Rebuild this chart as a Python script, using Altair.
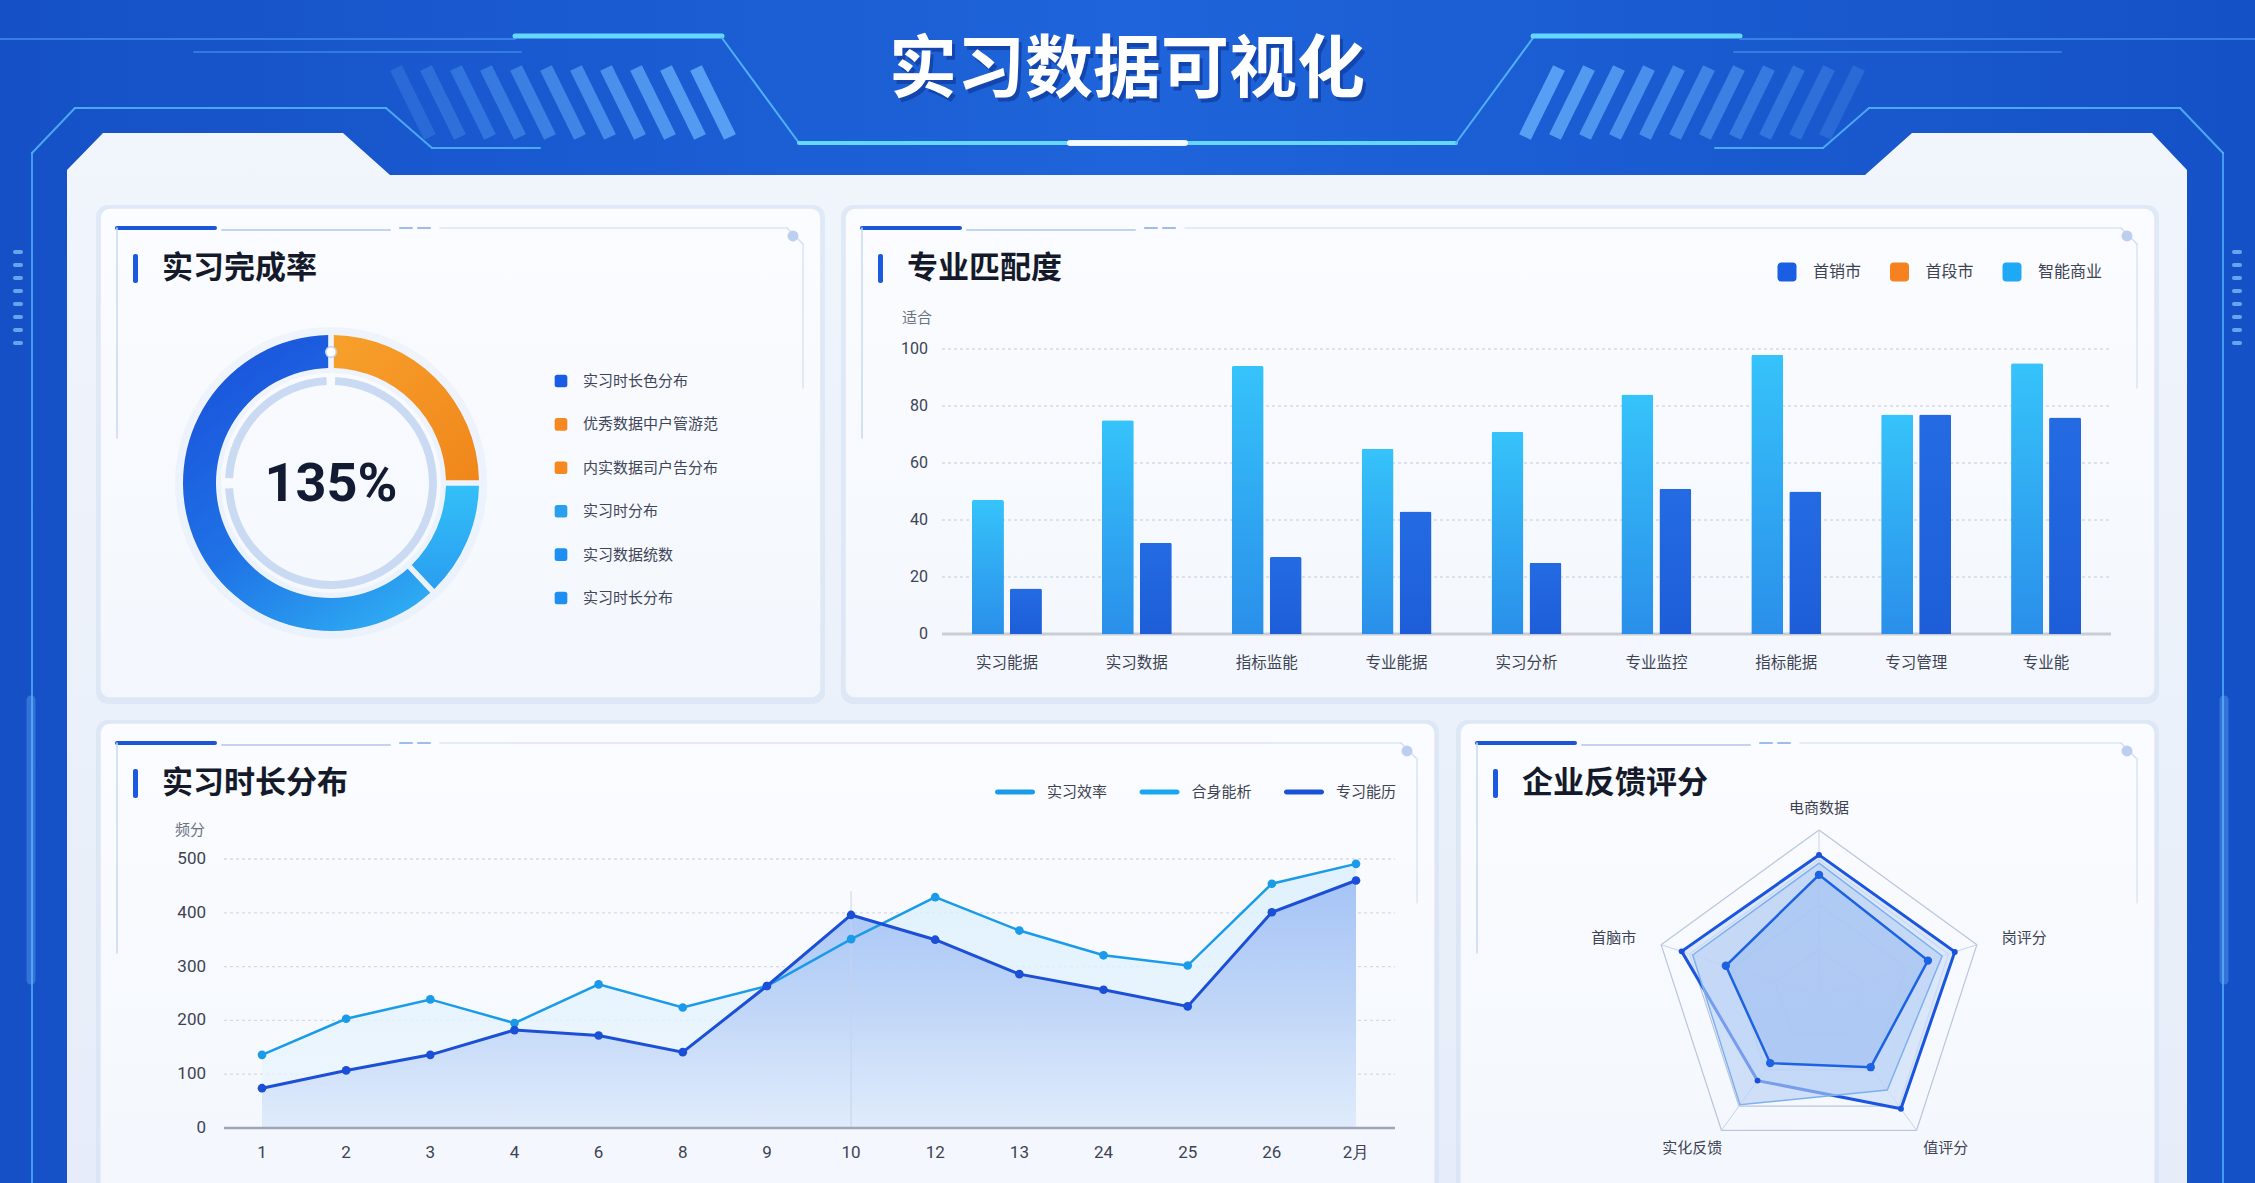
import math
import altair as alt
import pandas as pd

W, H = 2255, 1183
CJK = "Noto Sans CJK SC"
NUM = "Roboto"

# ---------------- data ----------------
page_title = "实习数据可视化"
panel_titles = ["实习完成率", "专业匹配度", "实习时长分布", "企业反馈评分"]

donut_names = ["实习时分布", "实习数据统数", "实习时长分布"]
donut_values = [25, 13, 62]
donut_center_text = "135%"
donut_legend = ["实习时长色分布", "优秀数据中户管游范", "内实数据司户告分布",
                "实习时分布", "实习数据统数", "实习时长分布"]

bar_categories = ["实习能据", "实习数据", "指标监能", "专业能据", "实习分析",
                  "专业监控", "指标能据", "专习管理", "专业能"]
bar_light = [47, 75, 94, 65, 71, 84, 98, 77, 95]
bar_dark = [16, 32, 27, 43, 25, 51, 50, 77, 76]
bar_ticks = [0, 20, 40, 60, 80, 100]
bar_legend = ["首销市", "首段市", "智能商业"]
bar_y_title = "适合"

line_x = ["1", "2", "3", "4", "6", "8", "9", "10", "12", "13", "24", "25", "26", "2月"]
line_light = [136, 203, 239, 195, 267, 224, 264, 351, 429, 367, 321, 302, 454, 491]
line_dark = [74, 107, 136, 182, 172, 141, 264, 396, 350, 286, 257, 226, 401, 460]
line_ticks = [0, 100, 200, 300, 400, 500]
line_legend = ["实习效率", "合身能析", "专习能历"]
line_y_title = "频分"
line_marker_x = "10"

radar_axes = ["电商数据", "岗评分", "值评分", "实化反馈", "首脑市"]
radar_s1 = [0.85, 0.86, 0.84, 0.63, 0.87]
radar_s2 = [0.80, 0.78, 0.70, 0.81, 0.80]
radar_s3 = [0.73, 0.69, 0.53, 0.50, 0.59]
radar_levels = [0.28, 0.55, 0.82, 1.0]

# ---------------- layout / style ----------------
panels = [(100, 208, 821, 698), (845, 208, 2155, 698),
          (100, 723, 1435, 1205), (1460, 723, 2155, 1205)]
ROUNDSQ = ("M -0.6 -1 L 0.6 -1 Q 1 -1 1 -0.6 L 1 0.6 Q 1 1 0.6 1 L -0.6 1 "
           "Q -1 1 -1 0.6 L -1 -0.6 Q -1 -1 -0.6 -1 Z")


def PX(f):
    return alt.X(f, type="quantitative", scale=None, axis=None)


def PY(f):
    return alt.Y(f, type="quantitative", scale=None, axis=None)


def grad(stops, x1=0, y1=0, x2=0, y2=1):
    return alt.Gradient(gradient="linear", x1=x1, y1=y1, x2=x2, y2=y2,
                        stops=[alt.GradientStop(offset=o, color=c) for o, c in stops])


def seg_layer(rows, cap="round"):
    df = pd.DataFrame(rows, columns=["x", "y", "x2", "y2", "c", "w", "o"])
    return alt.Chart(df).mark_rule(strokeCap=cap).encode(
        x=PX("x"), y=PY("y"), x2="x2:Q", y2="y2:Q",
        color=alt.Color("c:N", scale=None, legend=None),
        strokeWidth=alt.StrokeWidth("w:Q", scale=None, legend=None),
        opacity=alt.Opacity("o:Q", scale=None, legend=None))


def rect_layer(rows, **mark):
    df = pd.DataFrame(rows, columns=["x", "y", "x2", "y2"])
    return alt.Chart(df).mark_rect(**mark).encode(
        x=PX("x"), x2="x2:Q", y=PY("y"), y2="y2:Q")


layers = []

# background
layers.append(rect_layer([(0, 0, W, H)], fill=grad(
    [(0, "#1550c6"), (0.5, "#1f64da"), (1, "#1551c6")], x1=0, y1=0, x2=1, y2=0)))

# banner stripes
stripes = []
for k in range(11):
    xb = 430 + k * 30
    stripes.append((xb - 34, 68, xb, 137, "#6cb6ff", 13, 0.2 + k * 0.055))
for k in range(11):
    xb = 1825 - k * 30
    stripes.append((xb + 34, 68, xb, 137, "#6cb6ff", 13, 0.2 + k * 0.055))
layers.append(seg_layer(stripes, cap="butt"))

# banner frame lines
bright, mid, faint = "#66d8ff", "#4fb0f7", "#3f8ae8"
frame = [
    (0, 39, 515, 39, faint, 2, 0.8), (515, 36, 722, 36, bright, 5, 1),
    (194, 52, 521, 52, faint, 2, 0.7), (722, 38, 799, 143, mid, 2, 1),
    (799, 143, 1456, 143, bright, 4, 1), (1456, 143, 1533, 38, mid, 2, 1),
    (1533, 36, 1740, 36, bright, 5, 1), (1740, 39, 2255, 39, faint, 2, 0.8),
    (1734, 52, 2061, 52, faint, 2, 0.7), (1070, 143, 1185, 143, "#ffffff", 6, 0.9),
    (32, 153, 75, 108, mid, 2, 0.9), (75, 108, 386, 108, mid, 2, 0.9),
    (386, 108, 432, 148, mid, 2, 0.9), (432, 148, 540, 148, mid, 2, 0.9),
    (2223, 153, 2180, 108, mid, 2, 0.9), (2180, 108, 1869, 108, mid, 2, 0.9),
    (1869, 108, 1823, 148, mid, 2, 0.9), (1823, 148, 1715, 148, mid, 2, 0.9),
    (32, 153, 32, 1183, mid, 2, 0.8), (2223, 153, 2223, 1183, mid, 2, 0.8),
    (31, 700, 31, 980, "#6fb3f6", 9, 0.35), (2224, 700, 2224, 980, "#6fb3f6", 9, 0.35),
]
for j in range(8):
    frame.append((15, 252 + j * 13, 21, 252 + j * 13, "#7db9f6", 4, 0.8))
    frame.append((2234, 252 + j * 13, 2240, 252 + j * 13, "#7db9f6", 4, 0.8))
layers.append(seg_layer(frame))

# title
tdf = pd.DataFrame({"t": [page_title]})
layers.append(alt.Chart(tdf).mark_text(font=CJK, fontSize=68, fontWeight="bold", color="#0b2f8a",
                                       opacity=0.55, align="center", baseline="middle").encode(
    x=alt.value(1130), y=alt.value(76), text="t:N"))
layers.append(alt.Chart(tdf).mark_text(font=CJK, fontSize=68, fontWeight="bold", color="#ffffff",
                                       align="center", baseline="middle").encode(
    x=alt.value(1127), y=alt.value(72), text="t:N"))

# main white area (notched top)
main_pts = pd.DataFrame({
    "x": [67, 103, 343, 390, 1865, 1912, 2152, 2187],
    "y": [170, 133, 133, 175, 175, 133, 133, 170]})
main_pts["b"] = H
layers.append(alt.Chart(main_pts).mark_area(orient="vertical", fill=grad(
    [(0, "#f1f5fc"), (1, "#e6edf8")])).encode(x=PX("x"), y=PY("y"), y2="b:Q"))

# panels
shadow_rows, card_rows, deco, dots, bars_acc = [], [], [], [], []
for (x0, y0, x1, y1) in panels:
    shadow_rows.append((x0 - 4, y0 - 3, x1 + 4, y1 + 6))
    card_rows.append((x0, y0, x1, y1))
    deco += [
        (x0 + 17, y0 + 20, x0 + 115, y0 + 20, "#1a56d6", 4, 1),
        (x0 + 122, y0 + 22, x0 + 290, y0 + 22, "#c2d4f1", 2, 1),
        (x0 + 300, y0 + 20, x0 + 312, y0 + 20, "#9fbcea", 2, 1),
        (x0 + 318, y0 + 20, x0 + 330, y0 + 20, "#9fbcea", 2, 1),
        (x0 + 340, y0 + 20, x1 - 34, y0 + 20, "#dde6f5", 1.5, 1),
        (x1 - 34, y0 + 20, x1 - 18, y0 + 36, "#d2def2", 1.5, 1),
        (x1 - 18, y0 + 36, x1 - 18, y0 + 180, "#dbe4f4", 1.5, 1),
        (x0 + 17, y0 + 20, x0 + 17, y0 + 230, "#c9d8f2", 1.5, 1),
    ]
    dots.append((x1 - 28, y0 + 28))
    bars_acc.append((x0 + 33, y0 + 46, x0 + 38, y0 + 75))
layers.append(rect_layer(shadow_rows, fill="#cddbf2", opacity=0.45, cornerRadius=12))
layers.append(rect_layer(card_rows, fill=grad([(0, "#fbfcff"), (1, "#f3f7fd")]),
                         stroke="#e0e8f5", strokeWidth=1.5, cornerRadius=10))
layers.append(seg_layer(deco))
ddf = pd.DataFrame(dots, columns=["x", "y"])
layers.append(alt.Chart(ddf).mark_circle(size=120, color="#bccff0", opacity=1).encode(
    x=PX("x"), y=PY("y")))
layers.append(rect_layer(bars_acc, fill="#1a5ae0", cornerRadius=2))
ptdf = pd.DataFrame({"t": panel_titles, "x": [p[0] + 62 for p in panels],
                     "y": [p[1] + 61 for p in panels]})
layers.append(alt.Chart(ptdf).mark_text(font=CJK, fontSize=31, fontWeight="bold", color="#151a2a",
                                        align="left", baseline="middle").encode(
    x=PX("x"), y=PY("y"), text="t:N"))

# ---------------- donut ----------------
CX, CY = 331, 483
ring = pd.DataFrame({"a": [0.0], "b": [2 * math.pi]})
layers.append(alt.Chart(ring).mark_arc(innerRadius=110, outerRadius=156, fill="#d6e4f8",
                                       opacity=0.3).encode(
    theta=alt.value(0), theta2=alt.value(6.2832), x=alt.value(CX), y=alt.value(CY)))
for a0, a1 in [(0.04, 4.66), (4.76, 6.24)]:
    layers.append(alt.Chart(ring).mark_arc(innerRadius=98, outerRadius=106, fill="#cbdaf3").encode(
        theta=alt.value(a0), theta2=alt.value(a1), x=alt.value(CX), y=alt.value(CY)))

ddf2 = pd.DataFrame({"name": donut_names, "v": donut_values, "k": list(range(len(donut_values)))})
total = float(sum(donut_values))
theta_sc = alt.Scale(domain=[0, total], range=[0, 2 * math.pi])
dbase = alt.Chart(ddf2).transform_window(
    cum="sum(v)", sort=[alt.SortField("k")], frame=[None, 0]
).transform_calculate(start="datum.cum - datum.v")
donut_fills = [
    grad([(0, "#f7a02c"), (1, "#f0861a")], x1=0, y1=0, x2=1, y2=1),
    grad([(0, "#33bff8"), (1, "#2a9ef0")], x1=0, y1=0, x2=0, y2=1),
    grad([(0, "#1a52db"), (0.55, "#1f73e6"), (1, "#2eaaf2")], x1=0.2, y1=0, x2=0.8, y2=1),
]
for k, f in enumerate(donut_fills):
    layers.append(dbase.transform_filter(f"datum.k == {k}").mark_arc(
        innerRadius=115, outerRadius=148, padAngle=0.03, fill=f).encode(
        theta=alt.Theta("start:Q", scale=theta_sc),
        theta2=alt.Theta2("cum:Q"),
        x=alt.value(CX), y=alt.value(CY)))
layers.append(alt.Chart(ring).mark_point(shape="circle", filled=True, size=110, color="#ffffff",
                                         stroke="#bfd2f0", strokeWidth=1.5, opacity=1).encode(
    x=alt.value(CX), y=alt.value(CY - 131)))
cdf = pd.DataFrame({"t": [donut_center_text]})
layers.append(alt.Chart(cdf).mark_text(font=NUM, fontSize=54, fontWeight="bold", color="#131b33",
                                       align="center", baseline="middle").encode(
    x=alt.value(CX), y=alt.value(CY + 2), text="t:N"))

leg_colors = ["#1a5ce6", "#f5891f", "#f5891f", "#2a9fee", "#1c8ff0", "#1c8ff0"]
ldf = pd.DataFrame({"t": donut_legend, "c": leg_colors})
lsc = alt.Scale(type="point", domain=donut_legend, range=[381, 598], padding=0)
layers.append(alt.Chart(ldf).mark_point(shape=ROUNDSQ, filled=True, size=160, opacity=1).encode(
    x=alt.value(561), y=alt.Y("t:N", scale=lsc, axis=None),
    color=alt.Color("c:N", scale=None, legend=None)))
layers.append(alt.Chart(ldf).mark_text(font=CJK, fontSize=15, color="#3f4657", align="left",
                                       baseline="middle").encode(
    x=alt.value(583), y=alt.Y("t:N", scale=lsc, axis=None), text="t:N"))

# ---------------- bar chart ----------------
bdf = pd.DataFrame({"cat": bar_categories, "a": bar_light, "b": bar_dark})
bx = alt.Scale(type="band", domain=bar_categories, range=[942, 2111], paddingInner=0.5,
               paddingOuter=0.25)
by = alt.Scale(domain=[0, 100], range=[634, 349], nice=False, zero=False)
btdf = pd.DataFrame({"t": bar_ticks})
layers.append(alt.Chart(btdf).transform_filter("datum.t > 0").mark_rule(
    strokeDash=[3, 3], color="#d3dae8", strokeWidth=1.3).encode(
    y=alt.Y("t:Q", scale=by, axis=None), x=alt.value(942), x2=alt.value(2111)))
layers.append(alt.Chart(btdf).transform_filter("datum.t == 0").mark_rule(
    color="#c9cdd5", strokeWidth=3).encode(
    y=alt.Y("t:Q", scale=by, axis=None), x=alt.value(942), x2=alt.value(2111)))
layers.append(alt.Chart(bdf).mark_bar(width=32, xOffset=-19,
                                      fill=grad([(0, "#36c3fa"), (1, "#2a8fea")]),
                                      cornerRadiusTopLeft=2, cornerRadiusTopRight=2).encode(
    x=alt.X("cat:N", scale=bx, axis=None), y=alt.Y("a:Q", scale=by, axis=None)))
layers.append(alt.Chart(bdf).mark_bar(width=32, xOffset=19,
                                      fill=grad([(0, "#246be3"), (1, "#1d5ed8")]),
                                      cornerRadiusTopLeft=2, cornerRadiusTopRight=2).encode(
    x=alt.X("cat:N", scale=bx, axis=None), y=alt.Y("b:Q", scale=by, axis=None)))
layers.append(alt.Chart(btdf).mark_text(font=NUM, fontSize=16, color="#3d4352", align="right",
                                        baseline="middle").encode(
    y=alt.Y("t:Q", scale=by, axis=None), x=alt.value(928), text="t:Q"))
layers.append(alt.Chart(bdf).mark_text(font=CJK, fontSize=15.5, color="#3d4352", align="center",
                                       baseline="middle").encode(
    x=alt.X("cat:N", scale=bx, axis=None), y=alt.value(663), text="cat:N"))
layers.append(alt.Chart(pd.DataFrame({"t": [bar_y_title]})).mark_text(
    font=CJK, fontSize=15, color="#6b7282", align="center", baseline="middle").encode(
    x=alt.value(917), y=alt.value(318), text="t:N"))
bldf = pd.DataFrame({"t": bar_legend, "c": ["#1a5fe3", "#f5821f", "#1ea8f5"]})
blx = alt.Scale(type="point", domain=bar_legend, range=[1787, 2012], padding=0)
layers.append(alt.Chart(bldf).mark_point(shape=ROUNDSQ, filled=True, size=360, opacity=1).encode(
    x=alt.X("t:N", scale=blx, axis=None), y=alt.value(272),
    color=alt.Color("c:N", scale=None, legend=None)))
layers.append(alt.Chart(bldf).mark_text(font=CJK, fontSize=16, color="#3d4352", align="left",
                                        baseline="middle", dx=26).encode(
    x=alt.X("t:N", scale=blx, axis=None), y=alt.value(272), text="t:N"))

# ---------------- line chart ----------------
ldf2 = pd.DataFrame({"x": line_x, "a": line_light, "b": line_dark})
lx = alt.Scale(type="point", domain=line_x, range=[262, 1356], padding=0)
ly = alt.Scale(domain=[0, 500], range=[1128, 859], nice=False, zero=False)
ltdf = pd.DataFrame({"t": line_ticks})
layers.append(alt.Chart(ltdf).transform_filter("datum.t > 0").mark_rule(
    strokeDash=[3, 3], color="#d3dae8", strokeWidth=1.3).encode(
    y=alt.Y("t:Q", scale=ly, axis=None), x=alt.value(224), x2=alt.value(1395)))
layers.append(alt.Chart(ldf2).mark_area(fill=grad([(0, "#d9effd"), (1, "#eef6fe")]),
                                        opacity=0.8).encode(
    x=alt.X("x:N", scale=lx, axis=None), y=alt.Y("a:Q", scale=ly, axis=None),
    y2=alt.Y2Datum(0)))
layers.append(alt.Chart(ldf2).mark_area(fill=grad([(0, "#a0c0f5"), (0.5, "#bcd3f7"), (1, "#dfebfb")]),
                                        opacity=0.92).encode(
    x=alt.X("x:N", scale=lx, axis=None), y=alt.Y("b:Q", scale=ly, axis=None),
    y2=alt.Y2Datum(0)))
layers.append(alt.Chart(pd.DataFrame({"x": [line_marker_x]})).mark_rule(
    color="#c4d3ee", strokeWidth=1).encode(
    x=alt.X("x:N", scale=lx, axis=None), y=alt.YDatum(440, scale=ly, axis=None),
    y2=alt.Y2Datum(0)))
layers.append(alt.Chart(ltdf).transform_filter("datum.t == 0").mark_rule(
    color="#9ea6b6", strokeWidth=2.5).encode(
    y=alt.Y("t:Q", scale=ly, axis=None), x=alt.value(224), x2=alt.value(1395)))
for fld, col, wdt in [("a", "#1a9be9", 2.5), ("b", "#1a4fd6", 3)]:
    layers.append(alt.Chart(ldf2).mark_line(color=col, strokeWidth=wdt).encode(
        x=alt.X("x:N", scale=lx, axis=None), y=alt.Y(f"{fld}:Q", scale=ly, axis=None)))
    layers.append(alt.Chart(ldf2).mark_circle(color=col, size=75, opacity=1).encode(
        x=alt.X("x:N", scale=lx, axis=None), y=alt.Y(f"{fld}:Q", scale=ly, axis=None)))
layers.append(alt.Chart(ltdf).mark_text(font=NUM, fontSize=17, color="#3d4352", align="right",
                                        baseline="middle").encode(
    y=alt.Y("t:Q", scale=ly, axis=None), x=alt.value(206), text="t:Q"))
layers.append(alt.Chart(ldf2).mark_text(font=NUM, fontSize=17, color="#3d4352", align="center",
                                        baseline="middle").encode(
    x=alt.X("x:N", scale=lx, axis=None), y=alt.value(1153), text="x:N"))
layers.append(alt.Chart(pd.DataFrame({"t": [line_y_title]})).mark_text(
    font=CJK, fontSize=15, color="#6b7282", align="center", baseline="middle").encode(
    x=alt.value(190), y=alt.value(830), text="t:N"))
lldf = pd.DataFrame({"t": line_legend, "c": ["#1a9be9", "#1aa6f0", "#1a52d8"]})
llx = alt.Scale(type="point", domain=line_legend, range=[1015, 1304], padding=0)
layers.append(alt.Chart(lldf).mark_tick(orient="horizontal", size=40, thickness=5,
                                        cornerRadius=2.5, opacity=1).encode(
    x=alt.X("t:N", scale=llx, axis=None), y=alt.value(792),
    color=alt.Color("c:N", scale=None, legend=None)))
layers.append(alt.Chart(lldf).mark_text(font=CJK, fontSize=15, color="#3d4352", align="left",
                                        baseline="middle", dx=32).encode(
    x=alt.X("t:N", scale=llx, axis=None), y=alt.value(792), text="t:N"))

# ---------------- radar ----------------
RCX, RCY, RR = 1819, 996, 166
rx = alt.Scale(domain=[-1, 1], range=[RCX - RR, RCX + RR], nice=False, zero=False)
ry = alt.Scale(domain=[-1, 1], range=[RCY + RR, RCY - RR], nice=False, zero=False)
n_ax = len(radar_axes)
calc = dict(ang=f"datum.i * 2 * PI / {n_ax}",
            px="datum.v * sin(datum.ang)", py="datum.v * cos(datum.ang)")

grid_rows = [(lv, i, lv) for lv in radar_levels for i in range(n_ax + 1)]
gdf = pd.DataFrame(grid_rows, columns=["lvl", "i", "v"])
layers.append(alt.Chart(gdf).transform_calculate(**calc).mark_line(
    color="#b9c6dd", strokeWidth=1.2).encode(
    x=alt.X("px:Q", scale=rx, axis=None), y=alt.Y("py:Q", scale=ry, axis=None),
    detail="lvl:N", order=alt.Order("i:Q")))
sdf = pd.DataFrame({"i": list(range(n_ax)), "v": [1.0] * n_ax, "z": [0.0] * n_ax})
layers.append(alt.Chart(sdf).transform_calculate(**calc).mark_rule(
    color="#c6d3ea", strokeWidth=1).encode(
    x=alt.X("px:Q", scale=rx, axis=None), y=alt.Y("py:Q", scale=ry, axis=None),
    x2="z:Q", y2="z:Q"))

series = [radar_s1, radar_s2, radar_s3]
rows = []
for si, s in enumerate(series):
    for i in range(n_ax + 1):
        rows.append((si, i, s[i % n_ax]))
rdf = pd.DataFrame(rows, columns=["s", "i", "v"])
styles = [
    dict(fill="#cfe0f9", fillOpacity=0.7, stroke="#1a55df", strokeWidth=3),
    dict(fill="#b5cff5", fillOpacity=0.6, stroke="#7fb0ee", strokeWidth=1.5),
    dict(fill="#9dbdf0", fillOpacity=0.55, stroke="#1c62e3", strokeWidth=2.5),
]
for si, st in enumerate(styles):
    layers.append(alt.Chart(rdf).transform_filter(f"datum.s == {si}").transform_calculate(
        **calc).mark_line(**st).encode(
        x=alt.X("px:Q", scale=rx, axis=None), y=alt.Y("py:Q", scale=ry, axis=None),
        order=alt.Order("i:Q")))
layers.append(alt.Chart(rdf).transform_filter("datum.s == 2 && datum.i < 5").transform_calculate(
    **calc).mark_circle(size=70, color="#1c62e3", opacity=1).encode(
    x=alt.X("px:Q", scale=rx, axis=None), y=alt.Y("py:Q", scale=ry, axis=None)))
layers.append(alt.Chart(rdf).transform_filter("datum.s == 0 && datum.i < 5").transform_calculate(
    **calc).mark_circle(size=35, color="#1a4fd8", opacity=1).encode(
    x=alt.X("px:Q", scale=rx, axis=None), y=alt.Y("py:Q", scale=ry, axis=None)))
radf = pd.DataFrame({"t": radar_axes, "i": list(range(n_ax))})
layers.append(alt.Chart(radf).transform_calculate(
    ang=f"datum.i * 2 * PI / {n_ax}", px="1.3 * sin(datum.ang)", py="1.13 * cos(datum.ang)"
).mark_text(font=CJK, fontSize=15, color="#3d4352", align="center", baseline="middle").encode(
    x=alt.X("px:Q", scale=rx, axis=None), y=alt.Y("py:Q", scale=ry, axis=None), text="t:N"))

chart = alt.layer(*layers).resolve_scale(
    x="independent", y="independent", theta="independent", color="independent",
    opacity="independent", strokeWidth="independent", size="independent"
).properties(
    width=W, height=H, padding=0, autosize=alt.AutoSizeParams(type="none"),
    background="#1b5bd2"
).configure_view(strokeWidth=0)

chart.save("out.html", embed_options={"renderer": "svg", "actions": False})
